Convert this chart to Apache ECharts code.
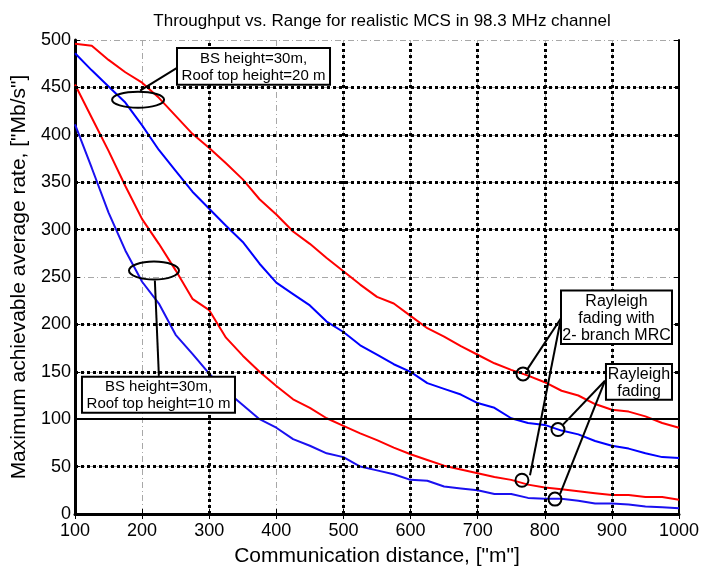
<!DOCTYPE html>
<html><head><meta charset="utf-8">
<script src="https://cdn.jsdelivr.net/npm/echarts@6/dist/echarts.min.js"></script>
<style>html,body{margin:0;padding:0;background:#fff}#c{width:702px;height:572px}</style>
</head><body><div id="c"></div>
<script>
// ---- data ----
const titleText = 'Throughput vs. Range for realistic MCS in 98.3 MHz channel';
const xName = 'Communication distance, ["m"]';
const yName = 'Maximum achievable average rate, ["Mb/s"]';
const distance = [100,125,150,175,200,225,250,275,300,325,350,375,400,425,450,475,500,525,550,575,600,625,650,675,700,725,750,775,800,825,850,875,900,925,950,975,1000];
// BS 30 m, roof top 20 m, Rayleigh fading with 2-branch MRC
const mrcRoof20 = [496,494,479,466,455,439,420,401,386,370,353,332,316,298,285,270,256,242,229,222,209,196,187,177,168,159,152,146,139,130,125,116,110,108,103,96,91];
// BS 30 m, roof top 20 m, Rayleigh fading
const rayRoof20 = [486,468,451,434,410,384,362,340,322,304,287,264,244,232,220,203,192,178,168,158,150,138,132,126,117,112,101,96,94,88,84,77,72,69,64,60,59];
// BS 30 m, roof top 10 m, Rayleigh fading with 2-branch MRC
const mrcRoof10 = [453,418,383,346,311,285,257,227,215,186,167,150,135,121,112,101,93,85,78,70,63,57,51,47,43,39,36,31,28,26,24,22,20,20,18,18,15];
// BS 30 m, roof top 10 m, Rayleigh fading
const rayRoof10 = [411,365,318,278,245,222,189,169,148,130,115,100,91,79,72,64,60,50,46,42,36,35,29,27,25,21,21,17,16,16,14,11,11,10,8,7,6];
// emphasised grid lines
const boldGridX = [300,500,600,700,800,900];
const boldGridY = [50,150,200,300,350,400,450];
const solidGridY = [100];
// annotations
const ann1Text = 'BS height=30m,\nRoof top height=20 m';
const ann2Text = 'BS height=30m,\nRoof top height=10 m';
const ann3Text = 'Rayleigh\nfading with\n2- branch MRC';
const ann4Text = 'Rayleigh\nfading';

const FONT = '"Liberation Sans", Arial, Helvetica, sans-serif';
const pairs = v => distance.map((d,i)=>[d,v[i]]);

const chart = echarts.init(document.getElementById('c'), null, {renderer:'canvas'});
const grayGrid = {show:true, lineStyle:{color:'#a8a8a8', width:1, type:[6,3,1,3]}};
const baseSeries = (data,color)=>({type:'line', data:pairs(data), symbol:'none', smooth:false,
  lineStyle:{color, width:2}, z:3, animation:false});

chart.setOption({
  animation:false,
  backgroundColor:'#fff',
  title:{text:titleText, left:377, top:8, textAlign:'center',
    textStyle:{fontFamily:FONT, fontSize:17, fontWeight:'normal', color:'#000'}},
  grid:{left:75, right:23, top:40, bottom:55, containLabel:false},
  xAxis:[{type:'value', min:100, max:1000, interval:100, position:'bottom',
    name:xName, nameLocation:'middle', nameGap:32,
    nameTextStyle:{fontFamily:FONT, fontSize:21, color:'#000'},
    axisLine:{show:true, lineStyle:{color:'#000', width:3}},
    axisTick:{show:true, inside:true, length:5, lineStyle:{color:'#000', width:1}},
    axisLabel:{fontFamily:FONT, fontSize:18, color:'#000', margin:8, formatter:v=>String(v)},
    splitLine:grayGrid},
   {type:'value', min:100, max:1000, interval:100, position:'top',
    axisLine:{show:true, lineStyle:{color:'#000', width:2}},
    axisTick:{show:true, inside:true, length:5, lineStyle:{color:'#000'}},
    axisLabel:{show:false}, splitLine:{show:false}}],
  yAxis:[{type:'value', min:0, max:500, interval:50, position:'left',
    name:yName, nameLocation:'middle', nameGap:44,
    nameTextStyle:{fontFamily:FONT, fontSize:21, color:'#000'},
    axisLine:{show:true, lineStyle:{color:'#000', width:3}},
    axisTick:{show:true, inside:true, length:5, lineStyle:{color:'#000'}},
    axisLabel:{fontFamily:FONT, fontSize:18, color:'#000', margin:4, formatter:v=>String(v)},
    splitLine:grayGrid},
   {type:'value', min:0, max:500, interval:50, position:'right',
    axisLine:{show:true, lineStyle:{color:'#000', width:2}},
    axisTick:{show:true, inside:true, length:5, lineStyle:{color:'#000'}},
    axisLabel:{show:false}, splitLine:{show:false}}],
  series:[
    {type:'line', data:[], z:2, silent:true,
      markLine:{silent:true, symbol:'none', label:{show:false}, animation:false,
        lineStyle:{color:'#000', width:3, type:[3,3]},
        data:[...boldGridX.map(v=>({xAxis:v})), ...boldGridY.map(v=>({yAxis:v})),
              ...solidGridY.map(v=>({yAxis:v, lineStyle:{type:'solid', width:2, color:'#000'}}))]}},
    baseSeries(mrcRoof20,'#ff0000'),
    baseSeries(rayRoof20,'#0000ff'),
    baseSeries(mrcRoof10,'#ff0000'),
    baseSeries(rayRoof10,'#1a10f0')
  ]
});

// ---- annotations placed via axis conversion ----
const P = (x,y)=>chart.convertToPixel({gridIndex:0},[x,y]);
const g = [];
function ellipse(cx,cy,rx,ry){const c=P(cx,cy);
  g.push({type:'ellipse', shape:{cx:c[0],cy:c[1],rx,ry}, style:{fill:null, stroke:'#000', lineWidth:2}, z:10});}
function seg(x1,y1,x2,y2){const a=P(x1,y1),b=P(x2,y2);
  g.push({type:'line', shape:{x1:a[0],y1:a[1],x2:b[0],y2:b[1]}, style:{stroke:'#000', lineWidth:2}, z:10});}
function box(x1,y1,x2,y2,text,fs,lh){const a=P(x1,y1),b=P(x2,y2);
  g.push({type:'rect', shape:{x:a[0],y:a[1],width:b[0]-a[0],height:b[1]-a[1]}, style:{fill:'#fff', stroke:'#000', lineWidth:2}, z:11});
  g.push({type:'text', x:(a[0]+b[0])/2, y:(a[1]+b[1])/2+1, style:{text, fill:'#000', font:fs+'px '+FONT, align:'center', verticalAlign:'middle', lineHeight:lh}, z:12});}

// annotation 1 (roof 20 m)
seg(197,446.5,252,470.6);
ellipse(194,437,26,8);
box(252,491.6,480,452.8,ann1Text,15,17);
// annotation 2 (roof 10 m)
seg(219,246.3,225,145.7);
ellipse(217.7,256.8,25,9);
box(110.4,144.7,338.4,106.9,ann2Text,15,17);
// annotation 3 (MRC)
seg(824.2,206.5,773.5,152);
seg(824.2,206.5,778,40.9);
ellipse(767.6,147.8,6.5,6.5);
ellipse(766,35.6,6.5,6.5);
box(824.2,235.8,989.6,179.2,ann3Text,16,17);
// annotation 4 (Rayleigh)
seg(889.7,140.5,827.2,94.3);
seg(889.7,140.5,822.7,21);
ellipse(819.7,89.1,6.5,6.5);
ellipse(815.2,15.7,6.5,6.5);
box(891.2,158.3,989.6,120.5,ann4Text,16,17);

chart.setOption({graphic:g});
</script></body></html>
